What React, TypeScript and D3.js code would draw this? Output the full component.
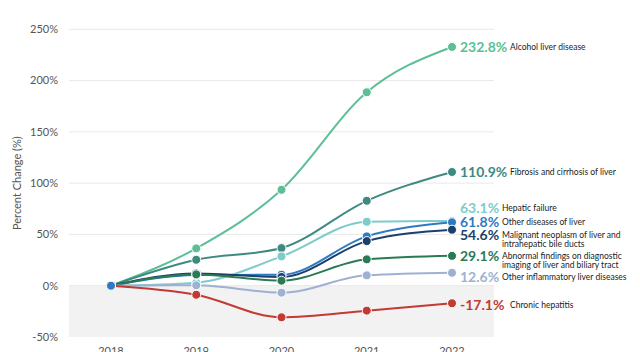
import * as d3 from 'd3';

const years = ['2018', '2019', '2020', '2021', '2022'];
const yTicks = [-50, 0, 50, 100, 150, 200, 250];

const seriesNames = [
    'Alcohol liver disease',
    'Fibrosis and cirrhosis of liver',
    'Hepatic failure',
    'Other diseases of liver',
    'Malignant neoplasm of liver and|intrahepatic bile ducts',
    'Abnormal findings on diagnostic|imaging of liver and biliary tract',
    'Other inflammatory liver diseases',
    'Chronic hepatitis'
];

const alcohol = [0, 36.4, 93.5, 188.6, 232.8];
const fibrosis = [0, 25.3, 36.7, 82.8, 110.9];
const hepaticFailure = [0, 3, 28.6, 62.4, 63.1];
const otherDiseases = [0, 10.4, 10.7, 48.1, 61.8];
const malignant = [0, 12, 8.5, 43.5, 54.6];
const abnormal = [0, 11, 4.9, 25.7, 29.1];
const otherInflammatory = [0, 0.4, -6.8, 10.1, 12.6];
const chronicHepatitis = [0, -8.8, -30.8, -24.3, -17.1];

const seriesValues = [alcohol, fibrosis, hepaticFailure, otherDiseases, malignant, abnormal, otherInflammatory, chronicHepatitis];
const colors = ['#5cbf95', '#3e8a80', '#7ecbcb', '#2f79c1', '#1c3f6b', '#2b7a56', '#9fb1d2', '#c23a32'];

// label nudges so the end labels don't collide
const labelDy = [0, 0, -13, 0, 5.5, 0, 4, 2];

export default function App() {
    const width = 640;
    const height = 352;
    const x = d3.scalePoint().domain(years).range([111, 452]);
    const y = d3.scaleLinear().domain([-50, 250]).range([337, 29.3]);
    const line = d3.line<number>()
        .x((_, i) => x(years[i]) as number)
        .y(d => y(d))
        .curve(d3.curveMonotoneX);
    const gridLeft = 69;
    const gridRight = 494;
    const font = 'Lato, "Open Sans", sans-serif';

    return (
        <svg width={width} height={height} style={{ position: 'absolute', left: 0, top: 0 }} fontFamily={font}>
            <rect x={gridLeft} y={y(0)} width={gridRight - gridLeft} height={y(-50) - y(0)} fill="#f2f2f2" />
            {yTicks.map(t => (
                <g key={t}>
                    {t !== -50 && <line x1={gridLeft} x2={gridRight} y1={y(t)} y2={y(t)} stroke="#e9e9e9" strokeWidth={1} />}
                    <text x={58} y={y(t)} dy="0.35em" textAnchor="end" fontSize={11} fill="#555">{t}%</text>
                </g>
            ))}
            <text transform={`translate(21,${y(100)}) rotate(-90)`} textAnchor="middle" fontSize={11} fill="#555">Percent Change (%)</text>
            {years.map(yr => (
                <text key={yr} x={x(yr)} y={355} textAnchor="middle" fontSize={11} fill="#555">{yr}</text>
            ))}
            {seriesValues.map((vals, si) => (
                <g key={si}>
                    <path d={line(vals) ?? ''} fill="none" stroke={colors[si]} strokeWidth={2} />
                </g>
            ))}
            {seriesValues.map((vals, si) => (
                <g key={'m' + si}>
                    {vals.map((v, i) => (
                        <circle key={i} cx={x(years[i])} cy={y(v)} r={4.5} fill={i === 0 ? '#2f79c1' : colors[si]} stroke="#fff" strokeWidth={1} />
                    ))}
                </g>
            ))}
            {seriesValues.map((vals, si) => {
                const last = vals[vals.length - 1];
                const ly = y(last) + labelDy[si];
                const lines = seriesNames[si].split('|');
                const valueText = `${last.toFixed(1)}%`;
                const tx = 460 + valueText.length * 8 + 2;
                return (
                    <g key={'l' + si}>
                        <text x={460} y={ly} dy="0.35em" fontSize={14} fontWeight={700} fill={colors[si]}>{valueText}</text>
                        {lines.map((l, li) => (
                            <text key={li} x={tx} y={ly + li * 9} dy="0.35em" fontSize={8.5} fill="#222">{l}</text>
                        ))}
                    </g>
                );
            })}
        </svg>
    );
}
